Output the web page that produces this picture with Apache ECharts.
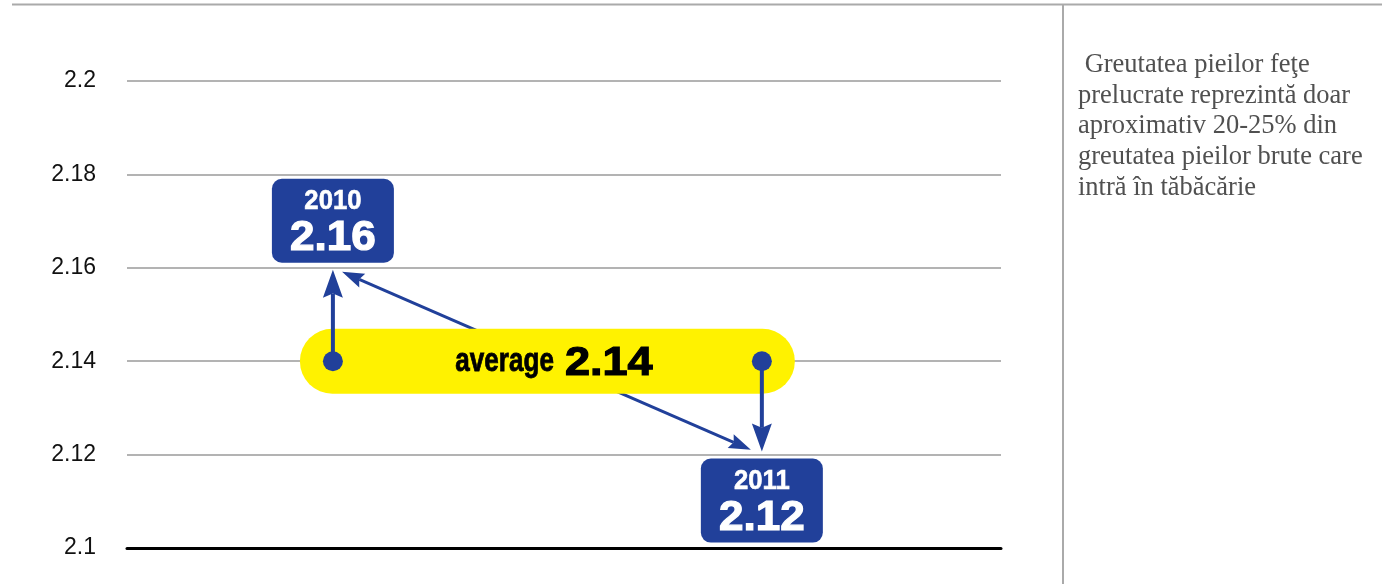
<!DOCTYPE html>
<html>
<head>
<meta charset="utf-8">
<script src="https://cdn.jsdelivr.net/npm/echarts@6/dist/echarts.min.js"></script>
<style>
html,body{margin:0;padding:0;background:#fff;}
#chart{width:1382px;height:584px;}
</style>
</head>
<body>
<div id="chart"></div>
<script>
// ---- data ----
const years = [2010, 2011];
const values = [2.16, 2.12];
const average = 2.14;
const yMin = 2.1;
const yMax = 2.2;
const yStep = 0.02;
const noteLines = [
  ' Greutatea pieilor feţe',
  'prelucrate reprezintă doar',
  'aproximativ 20-25% din',
  'greutatea pieilor brute care',
  'intră în tăbăcărie'
];

const BLUE = '#21409A';
const YELLOW = '#FFF200';
const BOLD = '"Liberation Sans", Arial, sans-serif';

function arrowParts(from, tip, lineWidth, headLen, headWidth, color) {
  const dx = tip[0] - from[0], dy = tip[1] - from[1];
  const L = Math.sqrt(dx * dx + dy * dy);
  const ux = dx / L, uy = dy / L;
  const nx = -uy, ny = ux;
  const bx = tip[0] - ux * headLen, by = tip[1] - uy * headLen;
  const notchX = tip[0] - ux * headLen * 0.85, notchY = tip[1] - uy * headLen * 0.85;
  return {
    end: [notchX, notchY],
    head: {
      type: 'polygon',
      shape: { points: [tip, [bx + nx * headWidth / 2, by + ny * headWidth / 2], [notchX, notchY], [bx - nx * headWidth / 2, by - ny * headWidth / 2]] },
      style: { fill: color }
    }
  };
}

function trim(p0, p1, a, b) {
  const dx = p1[0] - p0[0], dy = p1[1] - p0[1];
  const L = Math.sqrt(dx * dx + dy * dy);
  const ux = dx / L, uy = dy / L;
  return [[p0[0] + ux * a, p0[1] + uy * a], [p1[0] - ux * b, p1[1] - uy * b]];
}

const chart = echarts.init(document.getElementById('chart'), null, { renderer: 'canvas' });

const option = {
  animation: false,
  backgroundColor: '#fff',
  grid: { left: 127, right: 381, top: 81, bottom: 36, containLabel: false },
  xAxis: {
    type: 'value', min: 2009.52, max: 2011.5575,
    axisLine: { show: true, onZero: false, lineStyle: { color: '#000', width: 3 } },
    axisTick: { show: false }, axisLabel: { show: false }, splitLine: { show: false }
  },
  yAxis: {
    type: 'value', min: yMin, max: yMax, interval: yStep,
    axisLine: { show: false }, axisTick: { show: false },
    axisLabel: {
      margin: 31, color: '#111', fontSize: 23,
      fontFamily: '"Liberation Sans", Arial, sans-serif',
      formatter: v => String(Math.round(v * 100) / 100)
    },
    splitLine: { lineStyle: { color: '#b3b3b3', width: 2 } }
  },
  graphic: [
    { type: 'line', shape: { x1: 12, y1: 4.5, x2: 1382, y2: 4.5 }, style: { stroke: '#aaa', lineWidth: 2 }, z: 10 },
    { type: 'line', shape: { x1: 1063, y1: 4.5, x2: 1063, y2: 584 }, style: { stroke: '#aaa', lineWidth: 2 }, z: 10 },
    {
      type: 'text', left: 1078, top: 50, z: 10,
      style: { text: noteLines.join('\n'), font: '26.5px "Liberation Serif", "Times New Roman", serif', lineHeight: 30.6, fill: '#505050' }
    }
  ],
  series: [
    {
      // connecting double arrow between yearly values
      type: 'custom', z: 1, clip: false,
      data: [[years[0], values[0], years[1], values[1]]],
      renderItem: function (params, api) {
        const p0 = api.coord([api.value(0), api.value(1)]);
        const p1 = api.coord([api.value(2), api.value(3)]);
        const t = trim(p0, p1, 10, 12);
        const a1 = arrowParts(t[1], t[0], 3, 22, 15, BLUE);
        const a2 = arrowParts(t[0], t[1], 3, 22, 15, BLUE);
        return {
          type: 'group', children: [
            { type: 'line', shape: { x1: a1.end[0], y1: a1.end[1], x2: a2.end[0], y2: a2.end[1] }, style: { stroke: BLUE, lineWidth: 3 } },
            a1.head, a2.head
          ]
        };
      }
    },
    {
      // average pill
      type: 'custom', z: 2, clip: false,
      data: [[years[0], years[1], average]],
      renderItem: function (params, api) {
        const a = api.coord([api.value(0), api.value(2)]);
        const b = api.coord([api.value(1), api.value(2)]);
        const mid = (a[0] + b[0]) / 2;
        return {
          type: 'group', children: [
            { type: 'rect', shape: { x: a[0] - 33, y: a[1] - 32.5, width: b[0] - a[0] + 66, height: 65, r: 32.5 }, style: { fill: YELLOW } },
            { type: 'text', x: mid + 6.5, y: a[1] + 1, scaleX: 0.79, style: { text: 'average', x: 0, y: 0, align: 'right', verticalAlign: 'middle', font: 'bold 33px ' + BOLD, fill: '#000', stroke: '#000', lineWidth: 0.8 } },
            { type: 'text', x: mid + 17.5, y: a[1] + 2, scaleX: 1.1, style: { text: average.toFixed(2), x: 0, y: 0, align: 'left', verticalAlign: 'middle', font: 'bold 41px ' + BOLD, fill: '#000', stroke: '#000', lineWidth: 1.2 } }
          ]
        };
      }
    },
    {
      // yearly arrows, dots and value boxes
      type: 'custom', z: 3, clip: false,
      data: years.map((y, i) => [y, values[i], average]),
      renderItem: function (params, api) {
        const year = api.value(0), val = api.value(1), avg = api.value(2);
        const d = api.coord([year, avg]);
        const v = api.coord([year, val]);
        const up = val > avg;
        const tip = [v[0], v[1] + (up ? 2 : -3)];
        const ar = arrowParts(d, tip, 4, 28, 20, BLUE);
        const cx = v[0];
        const cy = up ? v[1] - 47 : v[1] + 46;
        return {
          type: 'group', children: [
            { type: 'line', shape: { x1: d[0], y1: d[1], x2: ar.end[0], y2: ar.end[1] }, style: { stroke: BLUE, lineWidth: 4 } },
            ar.head,
            { type: 'circle', shape: { cx: d[0], cy: d[1], r: 10 }, style: { fill: BLUE } },
            { type: 'rect', shape: { x: cx - 61, y: cy - 42, width: 122, height: 84, r: 10 }, style: { fill: BLUE } },
            { type: 'text', x: cx, y: cy - 19, scaleX: 0.95, style: { text: String(year), x: 0, y: 0, align: 'center', verticalAlign: 'middle', font: 'bold 27px ' + BOLD, fill: '#fff', stroke: '#fff', lineWidth: 0.6 } },
            { type: 'text', x: cx, y: cy + 18, scaleX: 1.05, style: { text: val.toFixed(2), x: 0, y: 0, align: 'center', verticalAlign: 'middle', font: 'bold 42px ' + BOLD, fill: '#fff', stroke: '#fff', lineWidth: 1.2 } }
          ]
        };
      }
    }
  ]
};
chart.setOption(option);
</script>
</body>
</html>
